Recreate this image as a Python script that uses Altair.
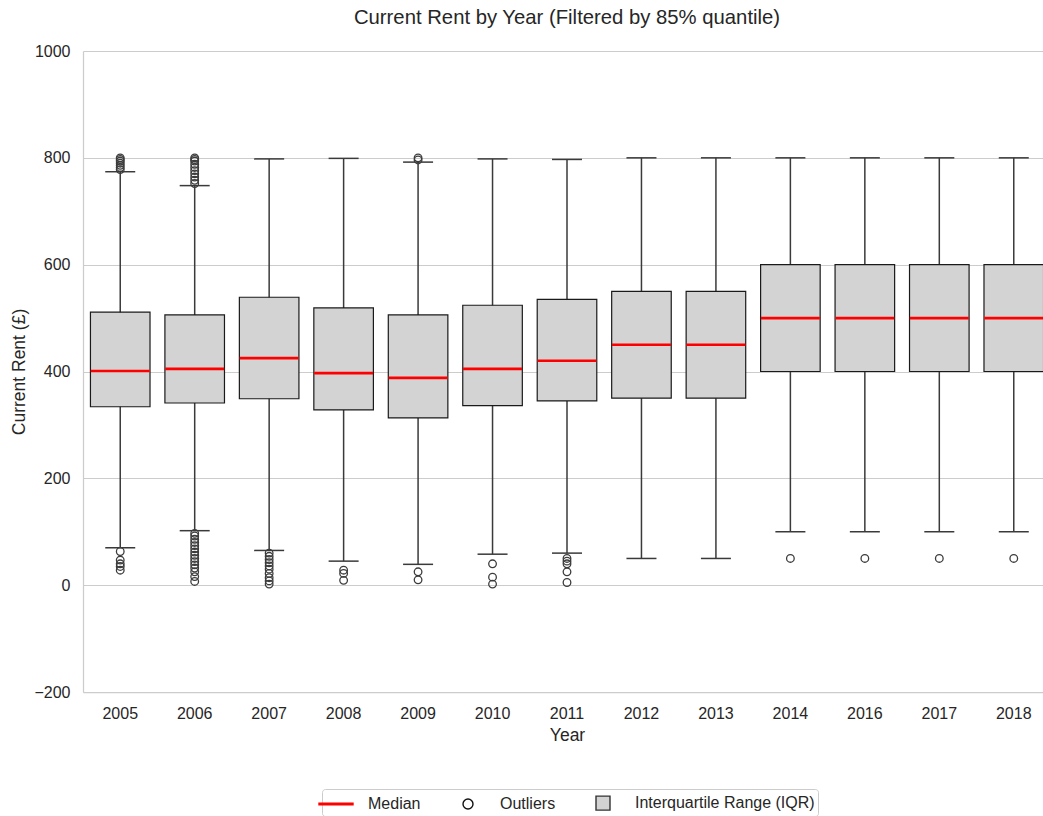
import altair as alt
import pandas as pd

# Box-plot summary per year (values in £)
years = ["2005", "2006", "2007", "2008", "2009", "2010", "2011",
         "2012", "2013", "2014", "2016", "2017", "2018"]
whisker_low = [70, 102, 65, 45, 39, 58, 60, 50, 50, 100, 100, 100, 100]
q1 = [334, 341, 349, 328, 313, 336, 345, 350, 350, 400, 400, 400, 400]
median = [401, 405, 425, 397, 388, 405, 420, 450, 450, 500, 500, 500, 500]
q3 = [511, 506, 539, 519, 506, 524, 535, 550, 550, 600, 600, 600, 600]
whisker_high = [774, 748, 798, 799, 792, 798, 797, 800, 800, 800, 800, 800, 800]

# Points beyond the whiskers
out_2005 = [778, 782, 786, 790, 794, 797, 800, 63, 47, 40, 35, 28]
out_2006 = [752, 758, 764, 770, 776, 782, 788, 794, 797, 800,
            97, 92, 86, 80, 74, 68, 62, 56, 50, 44, 38, 32, 25, 16, 7]
out_2007 = [60, 54, 48, 42, 36, 30, 22, 14, 8, 2]
out_2008 = [28, 22, 9]
out_2009 = [796, 800, 25, 10]
out_2010 = [40, 15, 2]
out_2011 = [50, 45, 40, 25, 5]
out_late = {"2014": [50], "2016": [50], "2017": [50], "2018": [50]}

legend_labels = ["Median", "Outliers", "Interquartile Range (IQR)"]

FONT = "Liberation Sans"
TEXT = "#262626"
SPINE = "#cccccc"
WHISKER = "#3a3a3a"

summary = pd.DataFrame({
    "year": years, "lo": whisker_low, "q1": q1, "med": median,
    "q3": q3, "hi": whisker_high,
})

outlier_groups = {"2005": out_2005, "2006": out_2006, "2007": out_2007,
                  "2008": out_2008, "2009": out_2009, "2010": out_2010,
                  "2011": out_2011, **out_late}
outliers = pd.DataFrame(
    [(yr, v) for yr, vals in outlier_groups.items() for v in vals],
    columns=["year", "value"],
)
legend_df = pd.DataFrame({"year": [years[0]] * 3, "value": [-1000] * 3,
                          "item": legend_labels})

# Band scale drawn a little wider than the visible plot so the last box runs off the edge
x_scale = alt.Scale(paddingInner=0, paddingOuter=0, range=[0, 968])
x_enc = alt.X("year:N", sort=years, title="Year", scale=x_scale,
              axis=alt.Axis(labelAngle=0, ticks=False, tickSize=0, labelPadding=13,
                            titlePadding=5, grid=False, domainColor=SPINE,
                            domainWidth=1.25))
y_scale = alt.Scale(domain=[-200, 1000], nice=False, zero=False)
y_axis = alt.Axis(values=[-200, 0, 200, 400, 600, 800, 1000], format="d",
                  ticks=False, tickSize=0, labelPadding=13, titlePadding=5,
                  grid=True, gridColor=SPINE, gridWidth=1,
                  domainColor=SPINE, domainWidth=1.25)

base = alt.Chart(summary)
xs = alt.X("year:N", sort=years)

whiskers = base.mark_rule(color=WHISKER, strokeWidth=1.5).encode(
    x=x_enc,
    y=alt.Y("lo:Q", scale=y_scale, axis=y_axis, title="Current Rent (£)"),
    y2="hi:Q",
)
cap_low = base.mark_tick(color=WHISKER, size=30, thickness=1.5, opacity=1).encode(
    x=xs, y=alt.Y("lo:Q"))
cap_high = base.mark_tick(color=WHISKER, size=30, thickness=1.5, opacity=1).encode(
    x=xs, y=alt.Y("hi:Q"))
boxes = base.mark_bar(width={"band": 0.8}, fill="#d3d3d3", stroke="#1a1a1a",
                      strokeWidth=1.2, opacity=1).encode(
    x=xs, y=alt.Y("q1:Q"), y2="q3:Q")
medians = base.mark_tick(color="#ff0000", size=59, thickness=2.6, opacity=1).encode(
    x=xs, y=alt.Y("med:Q"))

points = alt.Chart(outliers).mark_point(
    shape="circle", size=58, filled=False, stroke="#3c3c3c", strokeWidth=1.3, opacity=1
).encode(x=xs, y=alt.Y("value:Q"))

# Legend glyphs as unit-square paths (symbol size 400 -> 10 px per unit)
glyph_line = "M-1.7,-0.07H1.7V0.07H-1.7Z"
glyph_circle = "M0.5,0A0.5,0.5,0,1,1,-0.5,0A0.5,0.5,0,1,1,0.5,0Z"
glyph_square = "M-0.7,-0.7H0.7V0.7H-0.7Z"

legend = alt.Legend(
    title=None, orient="none", direction="horizontal", legendX=239, legendY=738,
    labelFont=FONT, labelFontSize=16, labelColor=TEXT, labelOffset=21,
    labelLimit=400, columnPadding=36, padding=3, strokeColor=SPINE,
    fillColor="white", cornerRadius=3, symbolSize=400, symbolStrokeWidth=1.4,
    symbolOpacity=1,
)
key = alt.Chart(legend_df).mark_point(filled=True, clip=True).encode(
    x=xs,
    y=alt.Y("value:Q"),
    shape=alt.Shape("item:N", legend=legend,
                    scale=alt.Scale(domain=legend_labels,
                                    range=[glyph_line, glyph_circle, glyph_square])),
    fill=alt.Fill("item:N", legend=legend,
                  scale=alt.Scale(domain=legend_labels,
                                  range=["#ff0000", "white", "#d3d3d3"])),
    stroke=alt.Stroke("item:N", legend=legend,
                      scale=alt.Scale(domain=legend_labels,
                                      range=["#ff0000", "#111111", "#333333"])),
)

chart = alt.layer(whiskers, cap_low, cap_high, boxes, medians, points, key).properties(
    width=960, height=641,
    title=alt.Title("Current Rent by Year (Filtered by 85% quantile)", fontSize=20.3,
                    font=FONT, fontWeight="normal", color=TEXT, offset=15,
                    anchor="middle", dx=4),
    autosize=alt.AutoSizeParams(type="none"),
    padding={"left": 83, "top": 51, "right": 0, "bottom": 124},
).configure_view(stroke=None).configure_axis(
    labelFont=FONT, labelFontSize=16, labelColor=TEXT,
    titleFont=FONT, titleFontSize=17.5, titleColor=TEXT, titleFontWeight="normal",
)

chart.save("out.html", embed_options={"renderer": "svg", "actions": False})
